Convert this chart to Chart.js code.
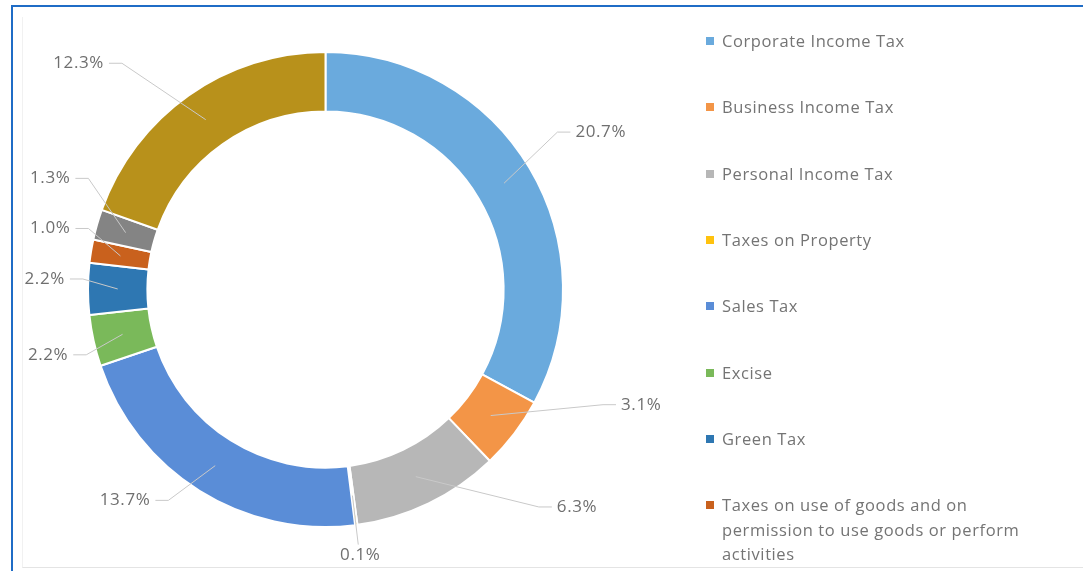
<!DOCTYPE html>
<html>
<head>
<meta charset="utf-8">
<script src="https://cdn.jsdelivr.net/npm/chart.js@4.4.1/dist/chart.umd.min.js"></script>
<style>
  html, body { margin:0; padding:0; background:#fff; width:1083px; height:571px; overflow:hidden; }
  #frame { position:absolute; left:11px; top:5px; width:1100px; height:600px; border-left:2px solid #1f6cc6; border-top:2px solid #1f6cc6; }
  #inner { position:absolute; left:22px; top:17px; width:1100px; height:550px; border-left:1px solid #f1f1f1; border-bottom:1px solid #e4e4e4; }
  #chartBox { position:absolute; left:0; top:0; width:1083px; height:571px; }
  #legend { position:absolute; left:700px; top:0; width:340px; height:562px; overflow:hidden;
            font-family:'Open Sans', sans-serif; font-size:16.5px; letter-spacing:0.6px; color:#747474; }
  .item { position:absolute; left:6px; width:320px; line-height:24.5px; }
  .item .mk { position:absolute; left:0; top:8px; width:8px; height:8px; }
  .item .tx { display:block; margin-left:16px; }
</style>
</head>
<body>
<div id="frame"></div>
<div id="inner"></div>
<div id="chartBox"><canvas id="c" width="1083" height="571"></canvas></div>
<div id="legend"></div>
<script>
// ---- data ----
const categories = [
  "Corporate Income Tax",
  "Business Income Tax",
  "Personal Income Tax",
  "Taxes on Property",
  "Sales Tax",
  "Excise",
  "Green Tax",
  "Taxes on use of goods and on permission to use goods or perform activities",
  "Other Taxes",
  "Non-Tax Revenue"
];
const shares = [20.7, 3.1, 6.3, 0.1, 13.7, 2.2, 2.2, 1.0, 1.3, 12.3];
const shareLabels = shares.map(v => v.toFixed(1) + "%");

// ---- styles ----
const colors = ["#6aaadd", "#f39547", "#b7b7b7", "#ffc20e", "#5a8dd7",
                "#7ab95a", "#2e77b2", "#c9611d", "#848484", "#b8911b"];

// label placement relative to each slice (degrees shift from mid-angle, distance as multiple of outer radius)
const labelLayout = [
  {shift: 1,     dist: 1.335},
  {shift: -17.3, dist: 1.415},
  {shift: -23.4, dist: 1.40},
  {shift: 0,     dist: 1.13, side: "bottom"},
  {shift: 11.5,  dist: 1.225},
  {shift: -0.8,  dist: 1.20},
  {shift: 2,     dist: 1.183},
  {shift: 3.2,   dist: 1.187},
  {shift: 6.1,   dist: 1.25},
  {shift: -12.3, dist: 1.41}
];

const outLabels = {
  id: "outLabels",
  afterDatasetsDraw(chart) {
    const meta = chart.getDatasetMeta(0);
    const ctx = chart.ctx;
    ctx.save();
    ctx.font = "17px 'Open Sans'";
    if ('letterSpacing' in ctx) ctx.letterSpacing = "0.6px";
    meta.data.forEach((arc, i) => {
      const p = arc.getProps(["x","y","startAngle","endAngle","innerRadius","outerRadius"], true);
      const mid = (p.startAngle + p.endAngle) / 2;
      const L = labelLayout[i];
      const a = mid + L.shift * Math.PI / 180;
      const lx = p.x + Math.cos(a) * p.outerRadius * L.dist;
      const ly = p.y + Math.sin(a) * p.outerRadius * L.dist;
      const sr = (p.innerRadius + p.outerRadius) / 2;
      const sx = p.x + Math.cos(mid) * sr, sy = p.y + Math.sin(mid) * sr;
      const text = shareLabels[i];
      const w = ctx.measureText(text).width;
      ctx.strokeStyle = "#c9c9c9";
      ctx.lineWidth = 1;
      ctx.beginPath();
      ctx.moveTo(sx, sy);
      if (L.side === "bottom") {
        ctx.lineTo(lx - 2, ly - 11);
      } else if (lx > p.x) {
        const ex = lx - w / 2 - 5;
        ctx.lineTo(ex - 13, ly); ctx.lineTo(ex, ly);
      } else {
        const ex = lx + w / 2 + 5;
        ctx.lineTo(ex + 13, ly); ctx.lineTo(ex, ly);
      }
      ctx.stroke();
      ctx.fillStyle = "#6f6f6f";
      ctx.textAlign = "center";
      ctx.textBaseline = "middle";
      ctx.fillText(text, lx, ly);
    });
    ctx.restore();
  }
};

new Chart(document.getElementById("c"), {
  type: "doughnut",
  data: {
    labels: categories,
    datasets: [{
      data: shares,
      backgroundColor: colors,
      borderColor: "#ffffff",
      borderWidth: 2,
      hoverOffset: 0
    }]
  },
  options: {
    responsive: false,
    animation: false,
    cutout: "75%",
    layout: { padding: { left: 87, top: 51, right: 519, bottom: 43 } },
    plugins: { legend: { display: false }, tooltip: { enabled: false } }
  },
  plugins: [outLabels]
});

// HTML legend built from categories and colours
const lg = document.getElementById("legend");
categories.forEach((name, i) => {
  const d = document.createElement("div");
  d.className = "item";
  d.style.top = (29 + i * 66.3) + "px";
  const mk = document.createElement("span");
  mk.className = "mk";
  mk.style.background = colors[i];
  const tx = document.createElement("span");
  tx.className = "tx";
  tx.textContent = name;
  d.appendChild(mk); d.appendChild(tx);
  lg.appendChild(d);
});
</script>
</body>
</html>
